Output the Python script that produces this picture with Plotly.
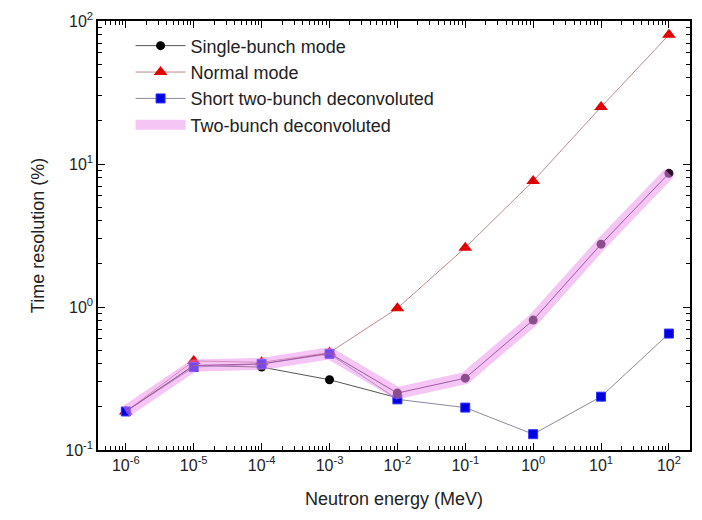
import plotly.graph_objects as go

energy = [1e-6, 1e-5, 1e-4, 1e-3, 1e-2, 1e-1, 1e0, 1e1, 1e2]
single_energy = [1e-6, 1e-5, 1e-4, 1e-3, 1e-2]
single_bunch = [0.186, 0.39, 0.38, 0.31, 0.232]
normal_mode = [0.186, 0.42, 0.41, 0.48, 0.98, 2.6, 7.6, 25.0, 80.0]
short_two_bunch = [0.186, 0.38, 0.40, 0.47, 0.226, 0.198, 0.129, 0.236, 0.652]
two_bunch = [0.186, 0.39, 0.40, 0.475, 0.25, 0.318, 0.81, 2.75, 8.6]

x_tick_exps = [-6, -5, -4, -3, -2, -1, 0, 1, 2]
y_tick_exps = [-1, 0, 1, 2]

font = "Arial, Liberation Sans, sans-serif"
fig = go.Figure()

fig.add_trace(go.Scatter(x=single_energy, y=single_bunch, mode="lines+markers",
                         name="Single-bunch mode",
                         line=dict(color="#555555", width=1),
                         marker=dict(symbol="circle", size=9, color="black")))
fig.add_trace(go.Scatter(x=energy, y=normal_mode, mode="lines+markers",
                         name="Normal mode",
                         line=dict(color="#c08a8a", width=1),
                         marker=dict(symbol="triangle-up", size=12, color="#e00000")))
fig.add_trace(go.Scatter(x=energy, y=short_two_bunch, mode="lines+markers",
                         name="Short two-bunch deconvoluted",
                         line=dict(color="#8a8a9a", width=1),
                         marker=dict(symbol="square", size=9, color="#0000e0",
                                     line=dict(color="#3030ff", width=1))))
# dark underlying line and markers of the two-bunch curve
fig.add_trace(go.Scatter(x=energy, y=two_bunch, mode="lines", showlegend=False,
                         line=dict(color="#5a2a5a", width=1), hoverinfo="skip"))
fig.add_trace(go.Scatter(x=energy[4:], y=two_bunch[4:], mode="markers", showlegend=False,
                         marker=dict(symbol="circle", size=9, color="#2a0f2a"), hoverinfo="skip"))
fig.add_trace(go.Scatter(x=energy, y=two_bunch, mode="lines",
                         name="Two-bunch deconvoluted",
                         line=dict(color="rgba(236,140,236,0.5)", width=12)))

axis_common = dict(
    type="log", showgrid=False, zeroline=False,
    showline=True, linecolor="black", linewidth=1.5, mirror="allticks",
    ticks="inside", ticklen=7, tickwidth=1, tickcolor="black",
    minor=dict(ticks="inside", ticklen=4, tickcolor="black", dtick="D1", showgrid=False),
    tickfont=dict(family=font, size=16, color="#222222"),
)

fig.update_xaxes(**axis_common, range=[-6.41, 2.31],
                 tickmode="array",
                 tickvals=[10.0 ** e for e in x_tick_exps],
                 ticktext=[f"10<sup>{e}</sup>" for e in x_tick_exps],
                 title=dict(text="Neutron energy (MeV)", font=dict(family=font, size=18, color="#222222"),
                            standoff=19))
fig.update_yaxes(**axis_common, range=[-1, 2],
                 tickmode="array",
                 tickvals=[10.0 ** e for e in y_tick_exps],
                 ticktext=[f"10<sup>{e}</sup>" for e in y_tick_exps],
                 title=dict(text="Time resolution (%)", font=dict(family=font, size=18, color="#222222"),
                            standoff=16))

fig.update_layout(
    width=702, height=520,
    margin=dict(l=98, r=10, t=14, b=70),
    plot_bgcolor="white", paper_bgcolor="white",
    legend=dict(x=0.055, y=0.985, xanchor="left", yanchor="top",
                bgcolor="rgba(0,0,0,0)", font=dict(family=font, size=18, color="#222222"),
                tracegroupgap=0, itemwidth=50),
    showlegend=True,
)

fig.write_html("out.html")
